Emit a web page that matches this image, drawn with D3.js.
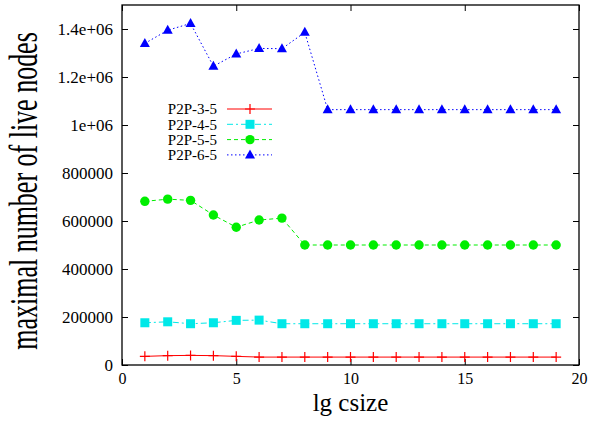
<!DOCTYPE html>
<html><head><meta charset="utf-8">
<script src="https://cdn.jsdelivr.net/npm/d3@7"></script>
<style>body{margin:0;background:#fff}svg{display:block}text{font-family:"Liberation Serif","DejaVu Serif",serif;fill:#000}</style>
</head><body><svg id="c" width="591" height="421"></svg>
<script>
const xs = [1,2,3,4,5,6,7,8,9,10,11,12,13,14,15,16,17,18,19];
const s35 = [36000,39000,40000,39000,36000,33000,33000,33000,33000,33000,33000,33000,33000,33000,33000,33000,33000,33000,33000];
const s45 = [176000,180000,172000,176000,186000,187000,172000,172000,172000,172000,172000,172000,172000,172000,172000,172000,172000,172000,172000];
const s55 = [682000,691000,686000,625000,574000,604000,612000,500000,500000,500000,500000,500000,500000,500000,500000,500000,500000,500000,500000];
const s65 = [1340000,1395000,1423000,1245000,1296000,1319000,1318000,1386000,1064000,1064000,1064000,1064000,1064000,1064000,1064000,1064000,1064000,1064000,1064000];
const seriesNames = ["P2P-3-5","P2P-4-5","P2P-5-5","P2P-6-5"];
const xTicks = [0,5,10,15,20];
const yTicks = [0,200000,400000,600000,800000,1000000,1200000,1400000];
const yTickLabels = ["0","200000","400000","600000","800000","1e+06","1.2e+06","1.4e+06"];

const FONT = '"Liberation Serif","DejaVu Serif",serif';
const svg = d3.select("#c");
const L=122, R=579, T=5, B=365;
const x = d3.scaleLinear().domain([0,20]).range([L,R]);
const y = d3.scaleLinear().domain([0,1500000]).range([B,T]);

const series = [
  {name:seriesNames[0], vals:s35, color:"#ff0000", dash:null, marker:"plus"},
  {name:seriesNames[1], vals:s45, color:"#00e8e8", dash:"6,3,2,3", marker:"square"},
  {name:seriesNames[2], vals:s55, color:"#00ee00", dash:"4,3", marker:"circle"},
  {name:seriesNames[3], vals:s65, color:"#0000ff", dash:"1.5,2.5", marker:"triangle"}
];

const gx = svg.append("g").attr("transform",`translate(0,${B})`)
  .call(d3.axisBottom(x).tickValues(xTicks).tickSize(-6).tickPadding(8).tickFormat(d3.format("d")));
const gxt = svg.append("g").attr("transform",`translate(0,${T})`)
  .call(d3.axisTop(x).tickValues(xTicks).tickSize(-6).tickFormat(""));
const gy = svg.append("g").attr("transform",`translate(${L},0)`)
  .call(d3.axisLeft(y).tickValues(yTicks).tickSize(-6).tickPadding(9).tickFormat((d,i)=>yTickLabels[i]));
const gyr = svg.append("g").attr("transform",`translate(${R},0)`)
  .call(d3.axisRight(y).tickValues(yTicks).tickSize(-6).tickFormat(""));
[gx,gxt,gy,gyr].forEach(g=>{
  g.attr("font-family",FONT).attr("font-size",17);
  g.select(".domain").remove();
  g.selectAll(".tick line").attr("stroke","#000").attr("stroke-width",1);
  g.selectAll(".tick text").attr("font-family",FONT).attr("font-size",17).attr("fill","#000");
});
gx.selectAll(".tick text").attr("font-size",16);
svg.append("rect").attr("x",L).attr("y",T).attr("width",R-L).attr("height",B-T)
  .attr("fill","none").attr("stroke","#000").attr("stroke-width",1.3);

function drawMarker(g, type, cx, cy, color){
  if(type==="plus"){
    g.append("path").attr("d",`M${cx-5},${cy}H${cx+5}M${cx},${cy-5}V${cy+5}`).attr("stroke",color).attr("stroke-width",1.2).attr("fill","none");
  } else if(type==="square"){
    g.append("rect").attr("x",cx-4.5).attr("y",cy-4.5).attr("width",9).attr("height",9).attr("fill",color);
  } else if(type==="circle"){
    g.append("circle").attr("cx",cx).attr("cy",cy).attr("r",4.7).attr("fill",color);
  } else {
    g.append("path").attr("d",`M${cx},${cy-5.5}L${cx+5},${cy+3.5}L${cx-5},${cy+3.5}Z`).attr("fill",color);
  }
}

const line = d3.line().x((d,i)=>x(xs[i])).y(d=>y(d));
series.forEach(s=>{
  const g = svg.append("g");
  g.append("path").datum(s.vals).attr("d",line).attr("fill","none").attr("stroke",s.color)
    .attr("stroke-width",1).attr("stroke-dasharray",s.dash);
  s.vals.forEach((v,i)=>drawMarker(g,s.marker,x(xs[i]),y(v),s.color));
});

const lg = svg.append("g");
series.forEach((s,i)=>{
  const yy = 109 + i*15.3;
  lg.append("text").attr("x",217).attr("y",yy).attr("dy","0.35em").attr("text-anchor","end")
    .attr("font-family",FONT).attr("font-size",15).text(s.name);
  lg.append("line").attr("x1",227).attr("x2",272).attr("y1",yy).attr("y2",yy)
    .attr("stroke",s.color).attr("stroke-width",1).attr("stroke-dasharray",s.dash);
  drawMarker(lg,s.marker,250,yy,s.color);
});

svg.append("text").attr("x",(L+R)/2).attr("y",411).attr("text-anchor","middle")
  .attr("font-family",FONT).attr("font-size",25).text("lg csize");
svg.append("text").attr("transform",`translate(37,191) rotate(-90) scale(1,1.5)`).attr("text-anchor","middle")
  .attr("font-family",FONT).attr("font-size",26).text("maximal number of live nodes");
</script></body></html>
